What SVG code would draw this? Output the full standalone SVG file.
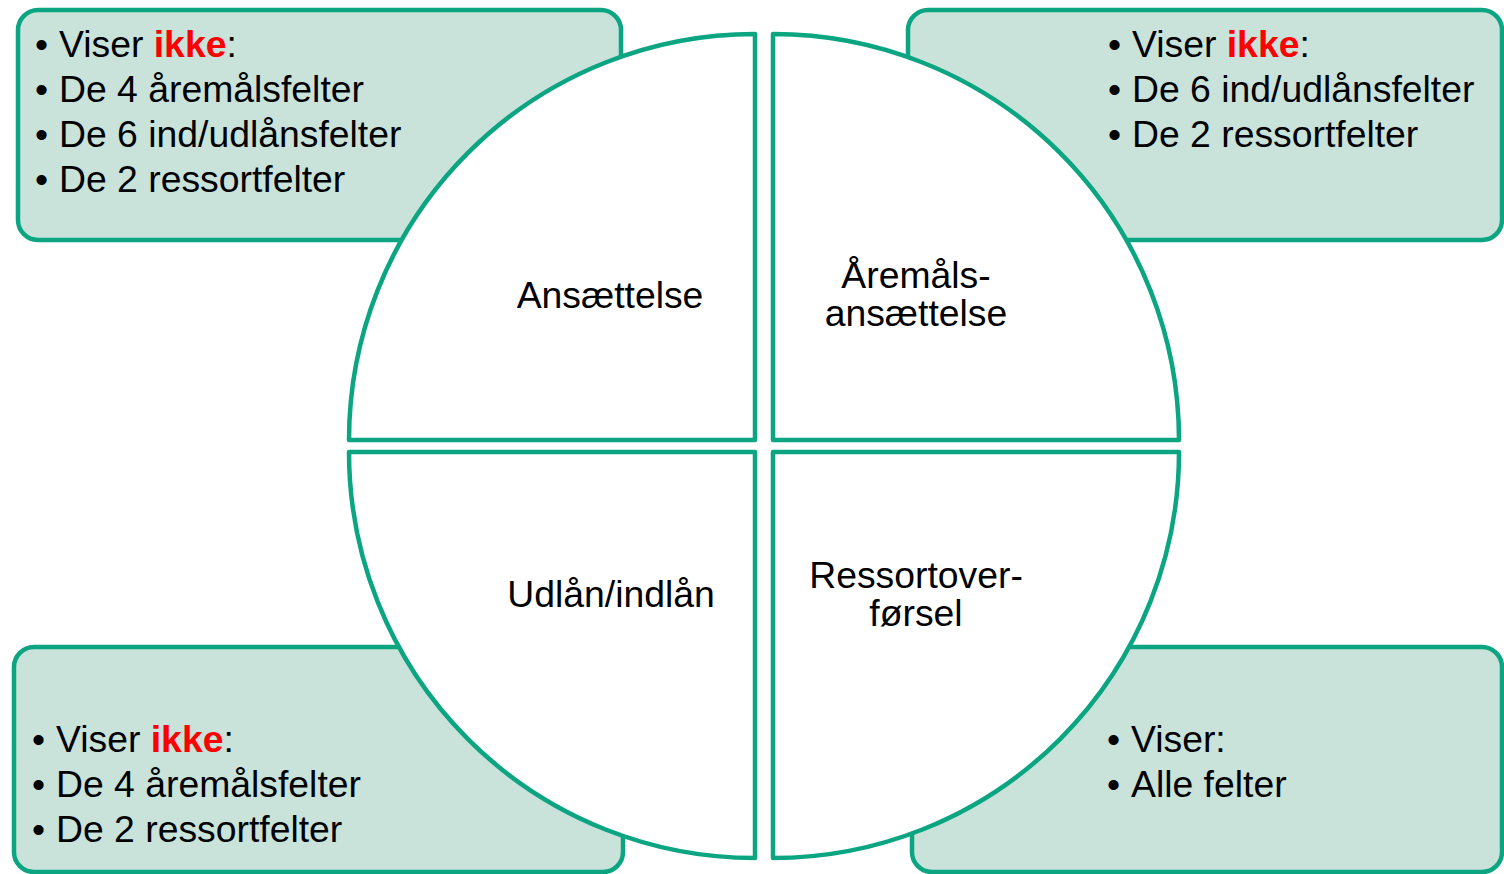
<svg xmlns="http://www.w3.org/2000/svg" width="1504" height="874" viewBox="0 0 1504 874">
<style>
.box{fill:#C9E3DA;stroke:#0BA582;stroke-width:4.5}
.q{fill:#FFFFFF;stroke:#0BA582;stroke-width:4.5;stroke-linejoin:round}
text{font-family:"Liberation Sans",Arial,sans-serif;font-size:37.33px;fill:#000000}
.red{fill:#FF0000;font-weight:bold}
.c{text-anchor:middle}
</style>
<rect width="1504" height="874" fill="#FFFFFF"/>
<g id="box-tl">
<rect class="box" x="18" y="10" width="603" height="230" rx="20"/>
<text x="35" y="57">•</text><text x="59" y="57">Viser <tspan class="red">ikke</tspan>:</text>
<text x="35" y="102">•</text><text x="59" y="102">De 4 åremålsfelter</text>
<text x="35" y="147">•</text><text x="59" y="147">De 6 ind/udlånsfelter</text>
<text x="35" y="192">•</text><text x="59" y="192">De 2 ressortfelter</text>
</g>
<g id="box-tr">
<rect class="box" x="908" y="10" width="594" height="230" rx="20"/>
<text x="1108" y="57">•</text><text x="1132" y="57">Viser <tspan class="red">ikke</tspan>:</text>
<text x="1108" y="102">•</text><text x="1132" y="102">De 6 ind/udlånsfelter</text>
<text x="1108" y="147">•</text><text x="1132" y="147">De 2 ressortfelter</text>
</g>
<g id="box-bl">
<rect class="box" x="14" y="647" width="609" height="225" rx="20"/>
<text x="32" y="752">•</text><text x="56" y="752">Viser <tspan class="red">ikke</tspan>:</text>
<text x="32" y="797">•</text><text x="56" y="797">De 4 åremålsfelter</text>
<text x="32" y="842">•</text><text x="56" y="842">De 2 ressortfelter</text>
</g>
<g id="box-br">
<rect class="box" x="912" y="647" width="590" height="225" rx="20"/>
<text x="1107" y="752">•</text><text x="1131" y="752">Viser:</text>
<text x="1107" y="797">•</text><text x="1131" y="797">Alle felter</text>
</g>
<g id="q-ansaettelse">
<path class="q" d="M755 440 L349 440 A406 406 0 0 1 755 34 Z"/>
<text class="c" x="610" y="308">Ansættelse</text>
</g>
<g id="q-aremaals">
<path class="q" d="M773 440 L773 34 A406 406 0 0 1 1179 440 Z"/>
<text class="c" x="916" y="288">Åremåls-</text>
<text class="c" x="916" y="326">ansættelse</text>
</g>
<g id="q-udlaan">
<path class="q" d="M755 452 L755 858 A406 406 0 0 1 349 452 Z"/>
<text class="c" x="611" y="607">Udlån/indlån</text>
</g>
<g id="q-ressort">
<path class="q" d="M773 452 L1179 452 A406 406 0 0 1 773 858 Z"/>
<text class="c" x="916" y="588">Ressortover-</text>
<text class="c" x="916" y="626">førsel</text>
</g>
<g id="connectors"></g>
</svg>
